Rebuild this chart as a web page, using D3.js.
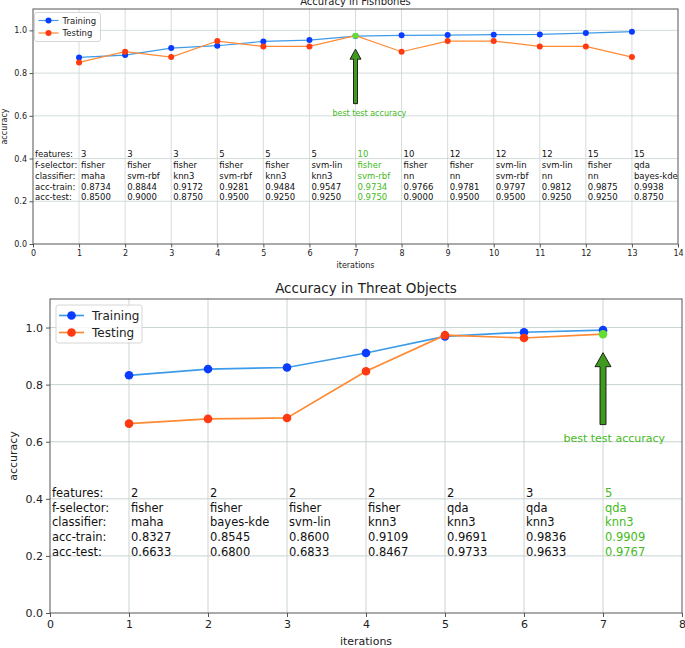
<!DOCTYPE html>
<html><head><meta charset="utf-8">
<script src="https://cdn.jsdelivr.net/npm/d3@7"></script>
<style>body{margin:0;background:#fff}svg{display:block}</style>
</head><body>
<svg id="c" width="685" height="648"></svg>
<script>
// ---- data: Fishbones ----
const fishIter = [1,2,3,4,5,6,7,8,9,10,11,12,13];
const fishTrain = [0.8734,0.8844,0.9172,0.9281,0.9484,0.9547,0.9734,0.9766,0.9781,0.9797,0.9812,0.9875,0.9938];
const fishTest  = [0.8500,0.9000,0.8750,0.9500,0.9250,0.9250,0.9750,0.9000,0.9500,0.9500,0.9250,0.9250,0.8750];
const fishFeatures = [3,3,3,5,5,5,10,10,12,12,12,15,15];
const fishSelector = ["fisher","fisher","fisher","fisher","fisher","svm-lin","fisher","fisher","fisher","svm-lin","svm-lin","fisher","qda"];
const fishClassifier = ["maha","svm-rbf","knn3","svm-rbf","knn3","knn3","svm-rbf","nn","nn","svm-rbf","nn","nn","bayes-kde"];
const fishXTicks = [0,1,2,3,4,5,6,7,8,9,10,11,12,13,14];

// ---- data: Threat Objects ----
const threatIter = [1,2,3,4,5,6,7];
const threatTrain = [0.8327,0.8545,0.8600,0.9109,0.9691,0.9836,0.9909];
const threatTest  = [0.6633,0.6800,0.6833,0.8467,0.9733,0.9633,0.9767];
const threatFeatures = [2,2,2,2,2,3,5];
const threatSelector = ["fisher","fisher","fisher","fisher","qda","qda","qda"];
const threatClassifier = ["maha","bayes-kde","svm-lin","knn3","knn3","knn3","knn3"];
const threatXTicks = [0,1,2,3,4,5,6,7,8];

const yTicks = [0,0.2,0.4,0.6,0.8,1.0];
const tableLabels = ["features:","f-selector:","classifier:","acc-train:","acc-test:"];
const seriesNames = ["Training","Testing"];

const C = {
  trainLine:"#3d9be9", trainDot:"#0a3cff",
  testLine:"#ff8a33", testDot:"#ff3a12",
  best:"#66dd33", bestText:"#44bb22",
  arrow:"#3f9a1f", grid:"#c9d3d3", frame:"#555"
};
const FONT = "DejaVu Sans, sans-serif";
const svg = d3.select("#c");

function draw(cfg){
  const g = svg.append("g");
  const x = d3.scaleLinear().domain([0,cfg.xMax]).range([cfg.L,cfg.R]);
  const y = d3.scaleLinear().domain([0,1.1]).range([cfg.B,cfg.T]);

  // grid
  g.append("g").selectAll("line").data(cfg.xTicks.slice(1,-1)).join("line")
    .attr("x1",d=>x(d)).attr("x2",d=>x(d)).attr("y1",cfg.T).attr("y2",cfg.B)
    .attr("stroke",C.grid).attr("stroke-width",cfg.gw);
  g.append("g").selectAll("line").data(yTicks.slice(1)).join("line")
    .attr("y1",d=>y(d)).attr("y2",d=>y(d)).attr("x1",cfg.L).attr("x2",cfg.R)
    .attr("stroke",C.grid).attr("stroke-width",cfg.gw);

  // axes
  const ax = g.append("g").attr("transform",`translate(0,${cfg.B})`)
    .call(d3.axisBottom(x).tickValues(cfg.xTicks).tickFormat(d3.format("d")).tickSize(cfg.tick).tickPadding(cfg.pad));
  const ay = g.append("g").attr("transform",`translate(${cfg.L},0)`)
    .call(d3.axisLeft(y).tickValues(yTicks).tickFormat(d3.format(".1f")).tickSize(cfg.tick).tickPadding(cfg.pad));
  [ax,ay].forEach(a=>{
    a.select(".domain").remove();
    a.selectAll("line").attr("stroke",C.frame);
    a.selectAll("text").attr("font-family",FONT).attr("font-size",cfg.fs).attr("fill","#222");
  });
  g.append("rect").attr("x",cfg.L).attr("y",cfg.T).attr("width",cfg.R-cfg.L).attr("height",cfg.B-cfg.T)
    .attr("fill","none").attr("stroke",C.frame).attr("stroke-width",1);

  // labels
  g.append("text").attr("x",(cfg.L+cfg.R)/2).attr("y",cfg.titleY).attr("text-anchor","middle")
    .attr("font-family",FONT).attr("font-size",cfg.titleFs).attr("fill","#222").text(cfg.title);
  g.append("text").attr("x",(cfg.L+cfg.R)/2).attr("y",cfg.xlabY).attr("text-anchor","middle")
    .attr("font-family",FONT).attr("font-size",cfg.fs).attr("fill","#222").text("iterations");
  g.append("text").attr("transform",`translate(${cfg.ylabX},${(cfg.T+cfg.B)/2}) rotate(-90)`)
    .attr("text-anchor","middle").attr("font-family",FONT).attr("font-size",cfg.fs).attr("fill","#222").text("accuracy");

  // table
  const best = d3.maxIndex(cfg.test);
  const lh = cfg.tableFs*1.27;
  const y0 = y(0.42);
  tableLabels.forEach((t,i)=>{
    g.append("text").attr("x",cfg.L+2).attr("y",y0+i*lh).attr("dominant-baseline","central")
      .attr("font-family",FONT).attr("font-size",cfg.tableFs).attr("fill","#111").text(t);
  });
  cfg.iter.forEach((it,j)=>{
    const vals = [String(cfg.features[j]),cfg.selector[j],cfg.classifier[j],
                  cfg.train[j].toFixed(4),cfg.test[j].toFixed(4)];
    vals.forEach((v,i)=>{
      g.append("text").attr("x",x(it)+2).attr("y",y0+i*lh).attr("dominant-baseline","central")
        .attr("font-family",FONT).attr("font-size",cfg.tableFs)
        .attr("fill",j===best?C.bestText:"#111").text(v);
    });
  });

  // lines
  const line = d3.line().x((d,i)=>x(cfg.iter[i])).y(d=>y(d));
  g.append("path").datum(cfg.train).attr("d",line).attr("fill","none").attr("stroke",C.trainLine).attr("stroke-width",cfg.lw);
  g.append("g").selectAll("circle").data(cfg.train).join("circle")
    .attr("cx",(d,i)=>x(cfg.iter[i])).attr("cy",d=>y(d)).attr("r",cfg.r).attr("fill",C.trainDot);
  g.append("path").datum(cfg.test).attr("d",line).attr("fill","none").attr("stroke",C.testLine).attr("stroke-width",cfg.lw);
  g.append("g").selectAll("circle").data(cfg.test).join("circle")
    .attr("cx",(d,i)=>x(cfg.iter[i])).attr("cy",d=>y(d)).attr("r",cfg.r)
    .attr("fill",(d,i)=>i===best?C.best:C.testDot);

  // arrow
  const axp = x(cfg.iter[best]), tip = y(cfg.arrowTip), tail = y(cfg.arrowTail);
  const sw = cfg.shaftW, hw = cfg.headW, hl = cfg.headL;
  const pts = [[axp-sw,tail],[axp-sw,tip+hl],[axp-hw,tip+hl],[axp,tip],[axp+hw,tip+hl],[axp+sw,tip+hl],[axp+sw,tail]];
  g.append("path").attr("d","M"+pts.map(p=>p.join(",")).join("L")+"Z")
    .attr("fill",C.arrow).attr("stroke","#111").attr("stroke-width",0.9);
  g.append("text").attr("x",x(cfg.iter[best]-0.5)).attr("y",y(0.6)).attr("font-family",FONT)
    .attr("font-size",cfg.annFs).attr("fill",C.bestText).text("best test accuracy");

  // legend
  const lg = cfg.leg;
  g.append("rect").attr("x",lg.x).attr("y",lg.y).attr("width",lg.w).attr("height",lg.h).attr("rx",2.5)
    .attr("fill","rgba(255,255,255,0.85)").attr("stroke","#d6d6d6").attr("stroke-width",1);
  seriesNames.forEach((n,i)=>{
    const yy = lg.y + lg.row0 + i*lg.dy;
    const lc = i===0?C.trainLine:C.testLine, dc = i===0?C.trainDot:C.testDot;
    g.append("line").attr("x1",lg.x+lg.lx0).attr("x2",lg.x+lg.lx1).attr("y1",yy).attr("y2",yy)
      .attr("stroke",lc).attr("stroke-width",cfg.lw);
    g.append("circle").attr("cx",lg.x+(lg.lx0+lg.lx1)/2).attr("cy",yy).attr("r",cfg.r).attr("fill",dc);
    g.append("text").attr("x",lg.x+lg.tx).attr("y",yy).attr("dominant-baseline","central")
      .attr("font-family",FONT).attr("font-size",lg.fs).attr("fill","#222").text(n);
  });
}

draw({
  title:"Accuracy in Fishbones", iter:fishIter, train:fishTrain, test:fishTest,
  features:fishFeatures, selector:fishSelector, classifier:fishClassifier, xTicks:fishXTicks,
  xMax:14, L:33, R:678, T:9, B:244, fs:8, titleFs:10, titleY:5, xlabY:268, ylabX:7,
  tableFs:8.5, tick:3.5, pad:2.5, gw:0.8, lw:1.2, r:3,
  arrowTip:0.912, arrowTail:0.657, shaftW:2, headW:5.5, headL:10, annFs:8,
  leg:{x:34.5,y:12.5,w:66,h:29,row0:8,dy:12.5,lx0:4,lx1:24,tx:28,fs:8.5}
});
draw({
  title:"Accuracy in Threat Objects", iter:threatIter, train:threatTrain, test:threatTest,
  features:threatFeatures, selector:threatSelector, classifier:threatClassifier, xTicks:threatXTicks,
  xMax:8, L:50, R:682, T:299, B:613, fs:11, titleFs:13.5, titleY:293, xlabY:645, ylabX:17,
  tableFs:11.5, tick:4, pad:3, gw:1, lw:1.7, r:4.3,
  arrowTip:0.912, arrowTail:0.66, shaftW:3, headW:8, headL:14, annFs:11,
  leg:{x:56,y:305,w:86,h:38,row0:10.5,dy:17,lx0:3,lx1:28,tx:36,fs:12}
});
</script>
</body></html>
